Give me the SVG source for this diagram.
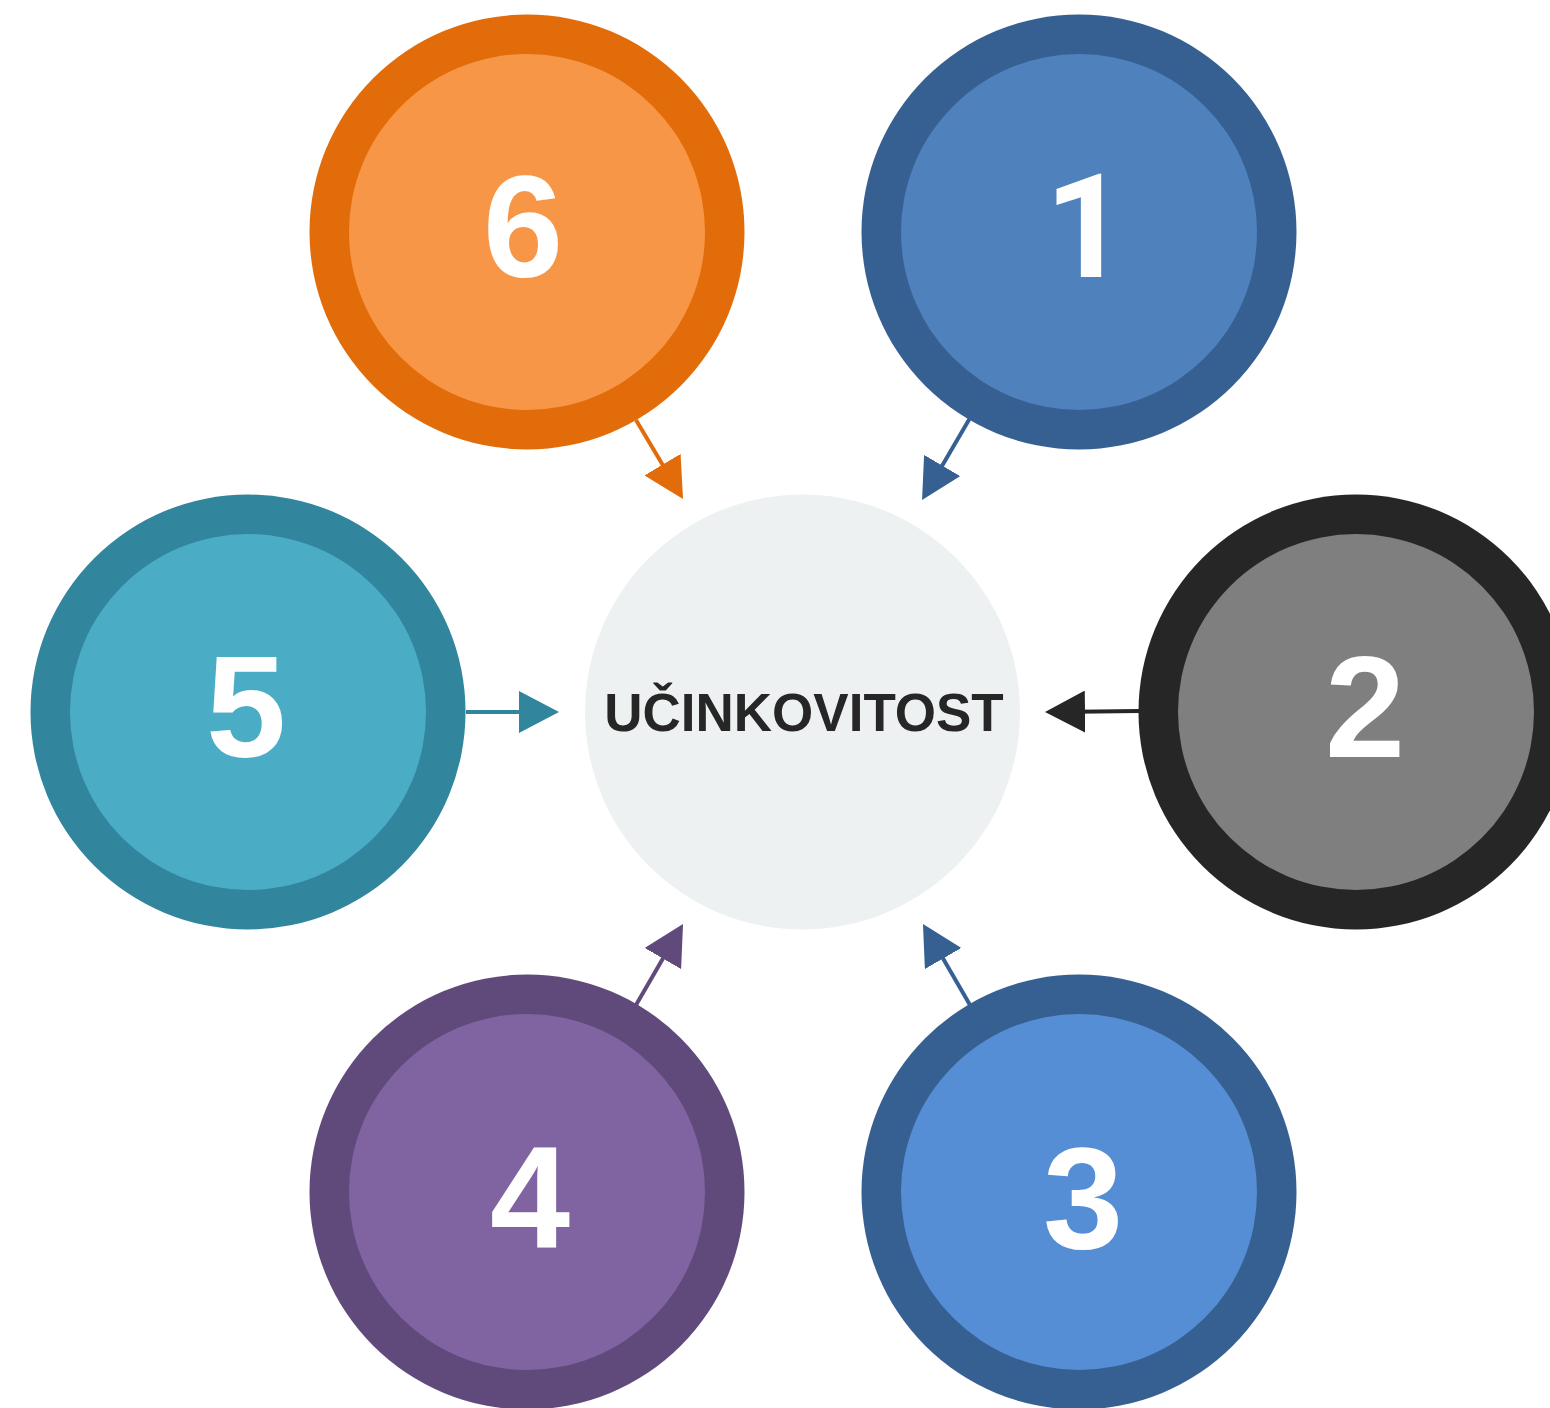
<svg xmlns="http://www.w3.org/2000/svg" width="1550" height="1408" viewBox="0 0 1550 1408">
<style>
.num{font-family:"Liberation Sans",Arial,sans-serif;font-weight:bold;font-size:144px;fill:#FFFFFF;text-anchor:middle}
.one{font-family:Roboto,"Liberation Sans",Arial,sans-serif}
.title{font-family:"Liberation Sans",Arial,sans-serif;font-weight:bold;font-size:53px;fill:#262626;text-anchor:middle}
.conn{fill:none;stroke-width:4}
</style>
<defs>
<marker id="aO" viewBox="0 0 40 42" refX="30" refY="21" markerWidth="40" markerHeight="42" markerUnits="userSpaceOnUse" orient="auto"><path d="M0,0 L40,21 L0,42 Z" fill="#E36C0A"/></marker>
<marker id="aB" viewBox="0 0 40 42" refX="30" refY="21" markerWidth="40" markerHeight="42" markerUnits="userSpaceOnUse" orient="auto"><path d="M0,0 L40,21 L0,42 Z" fill="#366092"/></marker>
<marker id="aK" viewBox="0 0 40 42" refX="30" refY="21" markerWidth="40" markerHeight="42" markerUnits="userSpaceOnUse" orient="auto"><path d="M0,0 L40,21 L0,42 Z" fill="#262626"/></marker>
<marker id="aP" viewBox="0 0 40 42" refX="30" refY="21" markerWidth="40" markerHeight="42" markerUnits="userSpaceOnUse" orient="auto"><path d="M0,0 L40,21 L0,42 Z" fill="#604A7B"/></marker>
<marker id="aT" viewBox="0 0 40 42" refX="30" refY="21" markerWidth="40" markerHeight="42" markerUnits="userSpaceOnUse" orient="auto"><path d="M0,0 L40,21 L0,42 Z" fill="#31859C"/></marker>
</defs>
<rect width="1550" height="1408" fill="#FFFFFF"/>
<g id="center">
<circle cx="802.5" cy="712" r="217.5" fill="#EEF1F2"/>
<text class="title" x="804" y="731">UČINKOVITOST</text>
</g>
<g id="node6">
<circle cx="527" cy="232" r="217.5" fill="#E36C0A"/>
<circle cx="527" cy="232" r="178" fill="#F79646"/>
<text class="num" x="523" y="277">6</text>
</g>
<g id="node1">
<circle cx="1079" cy="232" r="217.5" fill="#366092"/>
<circle cx="1079" cy="232" r="178" fill="#4F81BD"/>
<text class="num one" x="1086" y="277">1</text>
</g>
<g id="node2">
<circle cx="1356" cy="712" r="217.5" fill="#262626"/>
<circle cx="1356" cy="712" r="178" fill="#7F7F7F"/>
<text class="num" x="1365" y="757">2</text>
</g>
<g id="node3">
<circle cx="1079" cy="1192" r="217.5" fill="#366092"/>
<circle cx="1079" cy="1192" r="178" fill="#558ED5"/>
<text class="num" x="1083" y="1248">3</text>
</g>
<g id="node4">
<circle cx="527" cy="1192" r="217.5" fill="#604A7B"/>
<circle cx="527" cy="1192" r="178" fill="#8064A2"/>
<text class="num" x="530" y="1247">4</text>
</g>
<g id="node5">
<circle cx="248" cy="712" r="217.5" fill="#31859C"/>
<circle cx="248" cy="712" r="178" fill="#4BACC6"/>
<text class="num" x="246" y="757">5</text>
</g>
<g id="connectors">
<line class="conn" x1="636" y1="420" x2="677.9" y2="490.4" stroke="#E36C0A" marker-end="url(#aO)"/>
<line class="conn" x1="970" y1="418" x2="927.1" y2="491.4" stroke="#366092" marker-end="url(#aB)"/>
<line class="conn" x1="1139" y1="711" x2="1055" y2="711.9" stroke="#262626" marker-end="url(#aK)"/>
<line class="conn" x1="970" y1="1005" x2="928" y2="932.6" stroke="#366092" marker-end="url(#aB)"/>
<line class="conn" x1="636" y1="1005" x2="678" y2="932.6" stroke="#604A7B" marker-end="url(#aP)"/>
<line class="conn" x1="466" y1="712" x2="549" y2="712" stroke="#31859C" marker-end="url(#aT)"/>
</g>
</svg>
